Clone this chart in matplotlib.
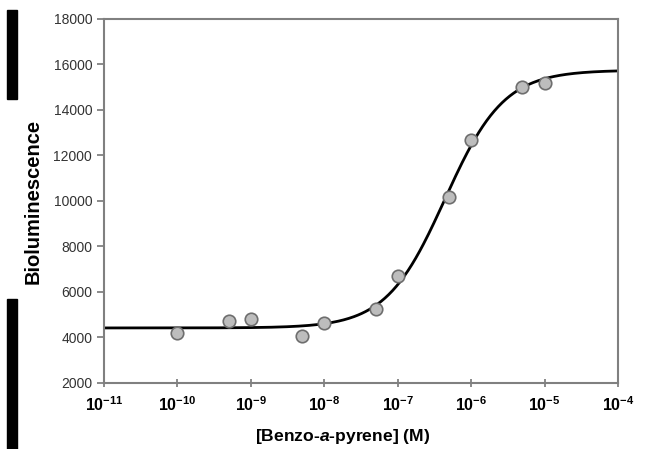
import numpy as np
import matplotlib
matplotlib.use("Agg")
import matplotlib.pyplot as plt
from matplotlib.patches import Rectangle

plt.rcParams['font.family'] = ['Liberation Sans', 'DejaVu Sans']
plt.rcParams['mathtext.fontset'] = 'custom'
plt.rcParams['mathtext.rm'] = 'Liberation Sans:bold'
plt.rcParams['mathtext.it'] = 'Liberation Sans:italic:bold'
plt.rcParams['mathtext.default'] = 'rm'

# measured points
conc = [1e-10, 5e-10, 1e-9, 5e-9, 1e-8, 5e-8, 1e-7, 5e-7, 1e-6, 5e-6, 1e-5]
biolum = [4180, 4720, 4810, 4060, 4640, 5250, 6700, 10190, 12680, 15020, 15170]

# fitted sigmoid parameters
bottom = 4420
top = 15750
ec50 = 4.4e-7
hill = 1.08

y_ticks = [2000, 4000, 6000, 8000, 10000, 12000, 14000, 16000, 18000]
x_ticks = [1e-11, 1e-10, 1e-9, 1e-8, 1e-7, 1e-6, 1e-5, 1e-4]
x_labels = ["10$^{-11}$", "10$^{-10}$", "10$^{-9}$", "10$^{-8}$", "10$^{-7}$",
            "10$^{-6}$", "10$^{-5}$", "10$^{-4}$"]

fig = plt.figure(figsize=(6.6, 4.49), dpi=100)
ax = fig.add_axes([0.1576, 0.147, 0.7788, 0.8107])

xs = np.logspace(-11, -4, 400)
ax.plot(xs, bottom + (top - bottom) / (1 + (ec50 / xs) ** hill), color="black", lw=2, zorder=2)
ax.plot(conc, biolum, "o", ms=9, mfc="#bdbdbd", mec="#6e6e6e", mew=1.2, zorder=3)

ax.set_xscale("log")
ax.set_xlim(1e-11, 1e-4)
ax.set_ylim(2000, 18000)
ax.set_yticks(y_ticks)
ax.set_xticks(x_ticks)
ax.set_xticklabels(x_labels, fontweight="bold")
ax.minorticks_off()
ax.tick_params(axis="y", direction="out", length=5, width=1.2, color="#777777", labelsize=10, labelcolor="#333333")
ax.tick_params(axis="x", direction="inout", length=6, width=1.2, color="#777777", labelsize=11.5, pad=6)
for s in ax.spines.values():
    s.set_color("#808080")
    s.set_linewidth(1.5)

ax.set_ylabel("Bioluminescence", fontsize=14.5, fontweight="bold", labelpad=8)
ax.set_xlabel("[Benzo-$\\mathit{a}$-pyrene] (M)", fontsize=12.6, fontweight="bold")
ax.xaxis.set_label_coords(0.465, -0.12)

# black bars along the left edge of the scan
fig.add_artist(Rectangle((7 / 660, 1 - 99 / 449), 10 / 660, 89 / 449, transform=fig.transFigure, color="black"))
fig.add_artist(Rectangle((7 / 660, 0), 10 / 660, 150 / 449, transform=fig.transFigure, color="black"))

fig.savefig("out.png", dpi=100)
